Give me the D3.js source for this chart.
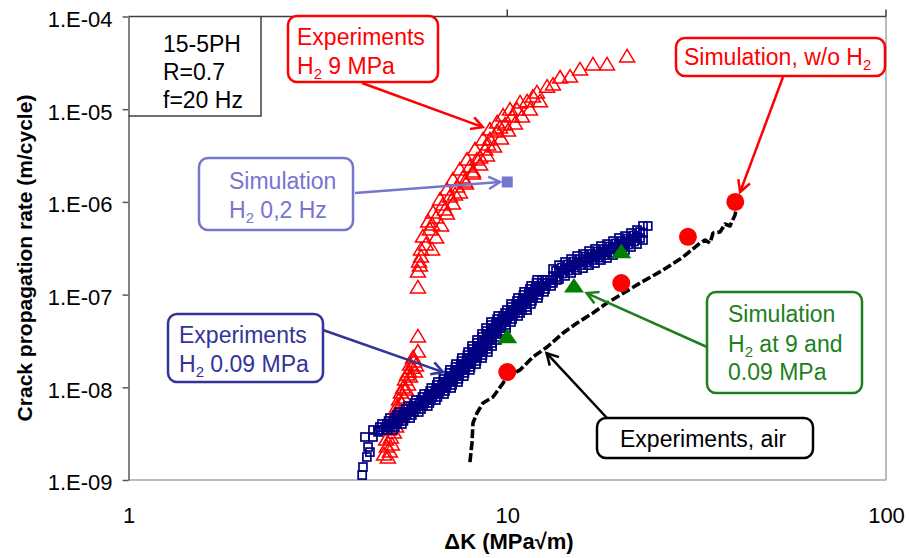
<!DOCTYPE html>
<html>
<head>
<meta charset="utf-8">
<script src="https://cdn.jsdelivr.net/npm/d3@7"></script>
<style>
  body { margin: 0; background: #fff; }
  text { font-family: "Liberation Sans", Arial, sans-serif; }
</style>
</head>
<body>
<svg id="chart" width="909" height="558"></svg>
<script>
// axis ticks
const xTicks = [1, 10, 100];
const yTicks = [1e-9, 1e-8, 1e-7, 1e-6, 1e-5, 1e-4];

// Experiments, H2 9 MPa (open red triangles)  [dK, da/dN]
const expH2_9MPa = [
  [4.84,1.73e-9],[4.90,2.0e-9],[4.81,2.27e-9],[4.96,2.39e-9],[4.93,2.84e-9],[5.02,3.21e-9],
  [5.09,3.73e-9],[4.99,4.22e-9],[5.15,4.66e-9],[5.21,5.41e-9],[5.12,6.13e-9],[5.27,6.6e-9],
  [5.34,7.66e-9],[5.24,8.68e-9],[5.40,9.35e-9],[5.47,1.06e-8],[5.37,1.2e-8],[5.54,1.29e-8],
  [5.50,1.46e-8],[5.60,1.61e-8],[5.54,1.74e-8],[5.67,1.88e-8],[5.64,2.07e-8],
  [4.73,1.86e-9],[4.79,2.7e-9],[4.87,3.46e-9],[5.05,5.02e-9],[5.18,7.29e-9],[5.31,9.83e-9],
  [5.44,1.36e-8],[5.74,1.70e-8],[5.71,1.46e-8],
  [5.81,2.4e-8],[5.81,3.49e-8],
  [5.81,1.18e-7],[5.81,1.75e-7],[5.88,2.03e-7],[5.85,2.25e-7],[5.92,2.54e-7],
  [5.92,3.03e-7],[5.99,4.18e-7],[6.18,6.07e-7],[6.37,7.59e-7],[6.65,1.05e-6],[6.93,1.34e-6],
  [7.19,1.72e-6],[7.50,2.21e-6],[7.83,2.83e-6],[8.22,3.63e-6],[8.63,4.66e-6],[9.00,5.96e-6],
  [9.40,7.1e-6],[9.75,8.43e-6],[10.17,9.79e-6],[10.81,1.17e-5],
  [6.10,3.43e-7],[6.25,4.98e-7],[6.49,6.7e-7],[6.77,9.25e-7],[7.06,1.13e-6],[7.37,1.45e-6],
  [7.64,1.81e-6],[7.97,2.38e-6],[8.32,2.83e-6],[8.74,3.63e-6],[9.00,4.66e-6],[9.40,5.68e-6],
  [9.87,6.75e-6],[10.29,8.24e-6],[10.61,9.79e-6],[11.28,1.2e-5],[11.98,1.5e-5],
  [6.33,5.64e-7],[6.85,8.18e-7],[7.28,1.19e-6],[7.73,1.64e-6],[8.12,2.1e-6],[8.48,2.97e-6],
  [8.90,4.11e-6],[9.57,6.27e-6],
  [6.33,3.03e-7],[6.49,4.08e-7],[6.69,5.5e-7],[6.93,7.4e-7],[7.19,9.49e-7],[7.50,1.25e-6],
  [7.78,1.56e-6],[8.12,2.0e-6],[8.48,2.5e-6],[8.84,3.13e-6],[9.23,3.91e-6],[9.63,4.77e-6],
  [10.05,5.82e-6],[10.48,6.92e-6],[10.94,8.24e-6],[11.48,9.79e-6],[12.2,1.2e-5],
  [11.69,1.35e-5],[12.74,1.73e-5],[13.21,1.82e-5],[13.79,2.17e-5],[14.65,2.22e-5],
  [15.56,2.65e-5],[16.84,3.0e-5],[18.34,3.0e-5],[20.72,3.66e-5]
];

// Experiments, H2 0.09 MPa (open navy squares)
// lower branch: [da/dN, [dK values across the band]]
const expH2_009Rows = [
  [3.46e-9,[4.42,4.56,4.70,4.84,4.99]],[3.73e-9,[4.61,4.76,4.90,5.05]],
  [4.02e-9,[4.67,4.81,4.96,5.12,5.27]],[4.33e-9,[4.86,5.01,5.16,5.32]],
  [4.66e-9,[4.90,5.05,5.21,5.37,5.54]],[5.02e-9,[5.11,5.27,5.43,5.60]],
  [5.41e-9,[5.18,5.34,5.50,5.67,5.84]],[5.83e-9,[5.40,5.57,5.74,5.92]],
  [6.28e-9,[5.47,5.64,5.81,5.99,6.17]],[6.77e-9,[5.69,5.86,6.04,6.23]],
  [7.29e-9,[5.74,5.92,6.10,6.29,6.48]],[7.86e-9,[5.97,6.16,6.35,6.54]],
  [8.47e-9,[6.03,6.21,6.41,6.60,6.81]],[9.12e-9,[6.26,6.45,6.65,6.85]],
  [9.83e-9,[6.30,6.49,6.69,6.89,7.11]],[1.06e-8,[6.52,6.73,6.93,7.15]],
  [1.14e-8,[6.56,6.77,6.97,7.19,7.41]],[1.23e-8,[6.78,6.99,7.21,7.43]],
  [1.32e-8,[6.80,7.02,7.23,7.46,7.68]],[1.43e-8,[7.04,7.25,7.48,7.71]],
  [1.54e-8,[7.06,7.28,7.50,7.73,7.97]],[1.66e-8,[7.30,7.52,7.76,8.00]],
  [1.78e-8,[7.32,7.55,7.78,8.02,8.27]],[1.92e-8,[7.57,7.80,8.05,8.29]],
  [2.07e-8,[7.59,7.83,8.07,8.32,8.58]],[2.23e-8,[7.85,8.10,8.34,8.60]],
  [2.40e-8,[7.88,8.12,8.37,8.63,8.89]],[2.59e-8,[8.10,8.35,8.60,8.87]],
  [2.79e-8,[8.07,8.32,8.58,8.84,9.12]],[3.01e-8,[8.32,8.58,8.84,9.11]],
  [3.24e-8,[8.32,8.58,8.84,9.12,9.39]],[3.49e-8,[8.58,8.84,9.12,9.40]],
  [3.76e-8,[8.58,8.84,9.12,9.40,9.69]],[4.05e-8,[8.82,9.09,9.37,9.66]],
  [4.36e-8,[8.79,9.06,9.34,9.63,9.93]],[4.70e-8,[9.06,9.34,9.63,9.93]],
  [5.06e-8,[9.06,9.34,9.63,9.92,10.23]],[5.45e-8,[9.40,9.69,9.99,10.30]],
  [5.88e-8,[9.46,9.75,10.05,10.36,10.68]],[6.33e-8,[9.87,10.17,10.49,10.81]],
  [6.82e-8,[9.98,10.29,10.61,10.94,11.28]],[7.35e-8,[10.26,10.58,10.90,11.24]],
  [7.92e-8,[10.23,10.55,10.87,11.21,11.55]],[8.53e-8,[10.61,10.93,11.27,11.62]],
  [9.19e-8,[10.67,11.01,11.34,11.69,12.05]],[9.92e-8,[11.04,11.38,11.73,12.09]],
  [1.07e-7,[11.08,11.41,11.77,12.13,12.51]],[1.15e-7,[11.48,11.84,12.20,12.58]],
  [1.24e-7,[11.56,11.91,12.28,12.66,13.05]],[1.34e-7,[11.95,12.32,12.70,13.09]],
  [1.44e-7,[11.99,12.36,12.74,13.13,13.54]]
];
// upper branch: [dK, [da/dN values across the band]]
const expH2_009Cols = [
  [13.21,[1.89e-7,1.59e-7,1.34e-7]],[13.45,[1.80e-7,1.55e-7]],
  [13.70,[2.08e-7,1.75e-7,1.47e-7]],[13.95,[1.96e-7,1.69e-7]],
  [14.21,[2.25e-7,1.89e-7,1.59e-7]],[14.47,[2.11e-7,1.82e-7]],
  [14.74,[2.42e-7,2.03e-7,1.71e-7]],[15.01,[2.27e-7,1.96e-7]],
  [15.29,[2.61e-7,2.19e-7,1.84e-7]],[15.57,[2.42e-7,2.08e-7]],
  [15.85,[2.74e-7,2.30e-7,1.93e-7]],[16.14,[2.57e-7,2.22e-7]],
  [16.44,[2.95e-7,2.48e-7,2.08e-7]],[16.74,[2.74e-7,2.36e-7]],
  [17.05,[3.11e-7,2.61e-7,2.19e-7]],[17.36,[2.92e-7,2.51e-7]],
  [17.68,[3.34e-7,2.81e-7,2.36e-7]],[18.01,[3.10e-7,2.67e-7]],
  [18.34,[3.51e-7,2.95e-7,2.48e-7]],[18.68,[3.30e-7,2.84e-7]],
  [19.02,[3.78e-7,3.18e-7,2.67e-7]],[19.37,[3.56e-7,3.07e-7]],
  [19.72,[4.08e-7,3.43e-7,2.88e-7]],[20.09,[3.78e-7,3.26e-7]],
  [20.46,[4.28e-7,3.60e-7,3.03e-7]],[20.84,[4.02e-7,3.47e-7]],
  [21.22,[4.62e-7,3.88e-7,3.26e-7]],[21.61,[4.34e-7,3.74e-7]],
  [22.01,[4.97e-7,4.18e-7,3.51e-7]],[22.42,[4.73e-7,4.08e-7]],
  [22.83,[5.50e-7,4.62e-7,3.88e-7]],[23.5,[5.5e-7]]
];
// scattered start of the series
const expH2_009Start = [
  [4.14,1.13e-9],[4.16,1.38e-9],[4.26,1.77e-9],[4.34,2.0e-9],[4.29,2.27e-9],[4.21,2.91e-9],
  [4.42,2.91e-9],[4.56,3.3e-9]
];

// Experiments, air (black dashed curve)
const expAir = [
  [7.97,1.56e-9],[8.07,2.51e-9],[8.12,4.12e-9],[8.32,5.28e-9],[8.63,6.77e-9],[9.17,7.86e-9],
  [9.75,1.11e-8],[9.99,1.29e-8],[10.81,1.54e-8],[11.69,2.12e-8],[12.74,2.72e-8],[14.04,3.85e-8],
  [15.29,4.94e-8],[16.84,6.33e-8],[18.34,8.12e-8],[19.49,9.42e-8],[22.41,1.33e-7],[25.78,1.84e-7],
  [29.12,2.54e-7],[32.28,3.60e-7],[33.28,3.88e-7],[34.31,3.60e-7],[34.94,4.62e-7],[36.46,4.73e-7],
  [37.58,5.78e-7],[38.74,5.50e-7],[39.94,7.23e-7],[40.43,9.27e-7]
];

// Simulations
const simNoH2 = [[10,1.46e-8],[20,1.33e-7],[30,4.2e-7],[40,1.0e-6]];
const simH2 = [[10,3.5e-8],[15,1.24e-7],[20,2.9e-7]];
const simH2_02Hz = [[10,1.64e-6]];

const infoLines = ["15-5PH", "R=0.7", "f=20 Hz"];

// flatten the square series into [dK, da/dN] pairs
const expH2_009MPa = expH2_009Start
  .concat(expH2_009Rows.flatMap(([r, ks]) => ks.map(k => [k, r])))
  .concat(expH2_009Cols.flatMap(([k, rs]) => rs.map(r => [k, r])));

const svg = d3.select("#chart");
const x = d3.scaleLog().domain([1, 100]).range([128.5, 886]);
const y = d3.scaleLog().domain([1e-9, 1e-4]).range([480, 16.5]);

const red = "#ff0000", navy = "#000080", green = "#008000", lightBlue = "#7676cf";

// frame
svg.append("line").attr("x1", x(1)).attr("x2", x(100)).attr("y1", y(1e-9)).attr("y2", y(1e-9))
  .attr("stroke", "#a6a6a6").attr("stroke-width", 1.5);
svg.append("line").attr("x1", x(100)).attr("x2", x(100)).attr("y1", y(1e-4)).attr("y2", y(1e-9))
  .attr("stroke", "#a6a6a6").attr("stroke-width", 1.5);
svg.append("line").attr("x1", x(1)).attr("x2", x(100)).attr("y1", y(1e-4)).attr("y2", y(1e-4))
  .attr("stroke", "#404040").attr("stroke-width", 1.5);
[10, 100].forEach(v => {
  svg.append("line").attr("x1", x(v)).attr("x2", x(v)).attr("y1", y(1e-4)).attr("y2", y(1e-4) - 7)
    .attr("stroke", "#404040").attr("stroke-width", 1.5);
});

// axes
const yAxis = svg.append("g").attr("transform", `translate(${x(1)},0)`)
  .call(d3.axisLeft(y).tickValues(yTicks).tickSize(6).tickSizeOuter(0).tickPadding(10)
    .tickFormat(d => "1.E-" + String(Math.round(-Math.log10(d))).padStart(2, "0")));
yAxis.select(".domain").attr("stroke", "#595959").attr("stroke-width", 1.5);
yAxis.selectAll(".tick line").attr("stroke", "#595959").attr("stroke-width", 1.5);
yAxis.selectAll(".tick text").attr("fill", "#000").attr("dy", "0.45em")
  .style("font-size", "22px").style("font-family", '"Liberation Sans", Arial, sans-serif');

const xAxis = svg.append("g").attr("transform", `translate(0,${y(1e-9)})`)
  .call(d3.axisBottom(x).tickValues(xTicks).tickSize(0).tickPadding(27).tickFormat(d3.format("d")));
xAxis.select(".domain").remove();
xAxis.selectAll(".tick text").attr("fill", "#000")
  .style("font-size", "22px").style("font-family", '"Liberation Sans", Arial, sans-serif');

svg.append("text").attr("x", 509).attr("y", 549).attr("text-anchor", "middle")
  .style("font-size", "22px").style("font-weight", "bold").text("ΔK (MPa√m)");
svg.append("text").attr("transform", "translate(32,258) rotate(-90)").attr("text-anchor", "middle")
  .style("font-size", "21px").style("font-weight", "bold").text("Crack propagation rate (m/cycle)");

// info box
svg.append("path").attr("d", `M${x(1)},116 H261 V${y(1e-4)}`)
  .attr("fill", "none").attr("stroke", "#404040").attr("stroke-width", 1.5);
infoLines.forEach((t, i) => {
  svg.append("text").attr("x", 163).attr("y", 52 + i * 28).style("font-size", "23px").text(t);
});

// data
const tri = "M0,-7.5L7.5,5L-7.5,5Z";
svg.append("g").selectAll("path").data(expH2_9MPa).join("path")
  .attr("d", tri).attr("transform", d => `translate(${x(d[0])},${y(d[1])})`)
  .attr("fill", "none").attr("stroke", red).attr("stroke-width", 1.5);

svg.append("g").selectAll("rect").data(expH2_009MPa).join("rect")
  .attr("x", d => x(d[0]) - 4).attr("y", d => y(d[1]) - 4).attr("width", 8).attr("height", 8)
  .attr("fill", "none").attr("stroke", navy).attr("stroke-width", 1.7);

svg.append("path").datum(expAir)
  .attr("d", d3.line().x(d => x(d[0])).y(d => y(d[1])))
  .attr("fill", "none").attr("stroke", "#000").attr("stroke-width", 3.6)
  .attr("stroke-dasharray", "9,3").attr("stroke-linejoin", "round");

svg.append("g").selectAll("circle").data(simNoH2).join("circle")
  .attr("cx", d => x(d[0])).attr("cy", d => y(d[1])).attr("r", 9).attr("fill", red);

svg.append("g").selectAll("path").data(simH2).join("path")
  .attr("d", "M0,-8L10,6.5L-10,6.5Z").attr("transform", d => `translate(${x(d[0])},${y(d[1])})`)
  .attr("fill", green);

svg.append("g").selectAll("rect").data(simH2_02Hz).join("rect")
  .attr("x", d => x(d[0]) - 5.5).attr("y", d => y(d[1]) - 5.5).attr("width", 11).attr("height", 11)
  .attr("fill", lightBlue);

// annotations: box in pixels, arrow tip in data units
const notes = [
  { lines: ["Experiments", "H₂ 9 MPa"], color: red, box: [288, 16, 150, 66], tx: 297, base: [45, 74], from: [362, 83], tip: [8.62, 6.4e-6] },
  { lines: ["Simulation, w/o H₂"], color: red, box: [676, 38, 209, 38], tx: 684, base: [65], from: [783, 77], tip: [41.2, 1.28e-6] },
  { lines: ["Simulation", "H₂ 0,2 Hz"], color: lightBlue, box: [199, 158, 154, 72], tx: 229, base: [189, 218], from: [355, 193], tip: [9.57, 1.64e-6] },
  { lines: ["Experiments", "H₂ 0.09 MPa"], color: "#33339a", box: [168, 314, 155, 68], tx: 179, base: [343, 372], from: [323, 330], tip: [6.77, 1.46e-8] },
  { lines: ["Simulation", "H₂ at 9 and", "0.09 MPa"], color: "#1d801d", box: [707, 292, 155, 101], tx: 728, base: [322, 352, 380], from: [707, 347], tip: [16.2, 1.04e-7] },
  { lines: ["Experiments, air"], color: "#000", box: [597, 418, 216, 40], tx: 620, base: [447], from: [607, 418], tip: [12.7, 2.34e-8] }
];

notes.forEach(n => {
  const g = svg.append("g");
  const tx = x(n.tip[0]), ty = y(n.tip[1]);
  g.append("line").attr("x1", n.from[0]).attr("y1", n.from[1]).attr("x2", tx).attr("y2", ty)
    .attr("stroke", n.color).attr("stroke-width", 2.5);
  const a = Math.atan2(ty - n.from[1], tx - n.from[0]);
  const L = 13, w = 0.5;
  g.append("path")
    .attr("d", `M${tx - L * Math.cos(a - w)},${ty - L * Math.sin(a - w)}L${tx},${ty}L${tx - L * Math.cos(a + w)},${ty - L * Math.sin(a + w)}`)
    .attr("fill", "none").attr("stroke", n.color).attr("stroke-width", 2.5);
  g.append("rect").attr("x", n.box[0]).attr("y", n.box[1]).attr("width", n.box[2]).attr("height", n.box[3])
    .attr("rx", 9).attr("fill", "#fff").attr("stroke", n.color).attr("stroke-width", 2.5);
  n.lines.forEach((s, i) => {
    const t = g.append("text").attr("x", n.tx).attr("y", n.base[i]).attr("fill", n.color).style("font-size", "23px");
    s.split("₂").forEach((p, j) => {
      if (j > 0) {
        t.append("tspan").attr("dy", 5).style("font-size", "15px").text("2");
        t.append("tspan").attr("dy", -5).text(p);
      } else {
        t.append("tspan").text(p);
      }
    });
  });
});
</script>
</body>
</html>
